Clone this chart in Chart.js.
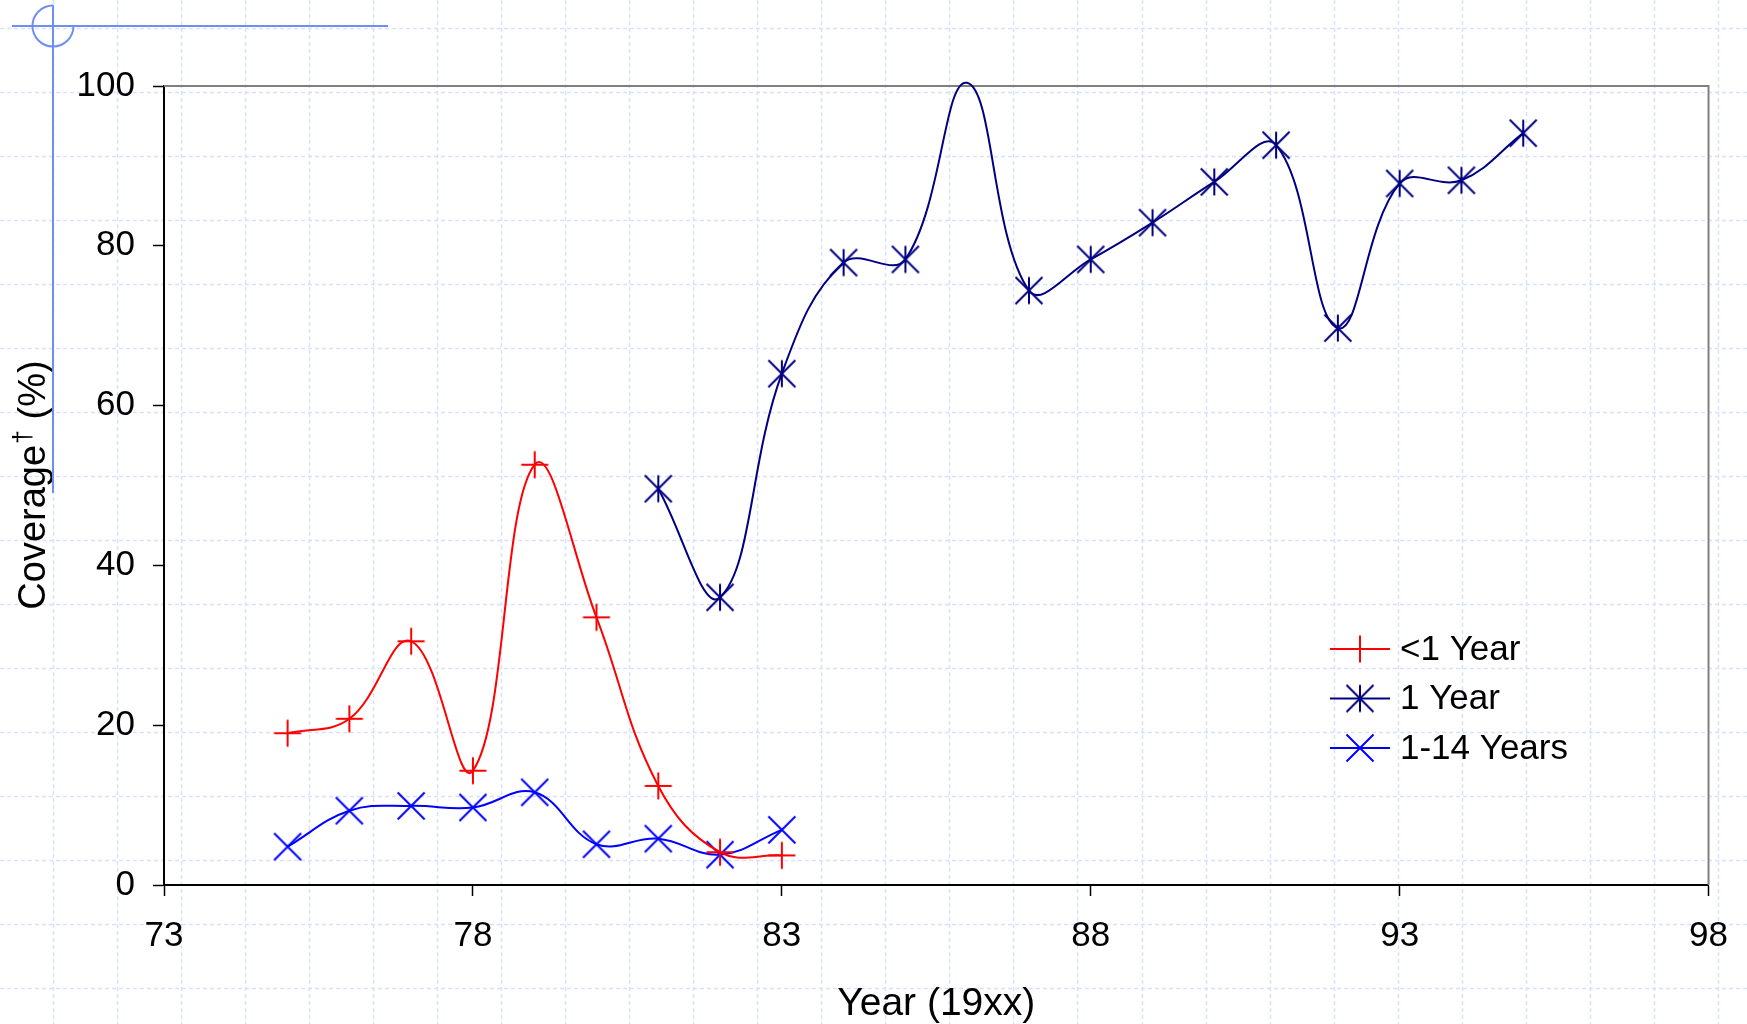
<!DOCTYPE html>
<html>
<head>
<meta charset="utf-8">
<script src="https://cdn.jsdelivr.net/npm/chart.js@4/dist/chart.umd.min.js"></script>
<style>
html,body{margin:0;padding:0;background:#fff;}
canvas{display:block;}
</style>
</head>
<body>
<canvas id="c" width="1747" height="1024"></canvas>
<script>
// ---------------- data ----------------
const yearsUnder1 = [75, 76, 77, 78, 79, 80, 81, 82, 83];
const valuesUnder1 = [19.0, 20.8, 30.5, 14.3, 52.6, 33.5, 12.4, 4.1, 3.7];

const years1 = [81, 82, 83, 84, 85, 86, 87, 88, 89, 90, 91, 92, 93, 94, 95];
const values1 = [49.6, 36.0, 64.0, 77.9, 78.3, 100.4, 74.4, 78.3, 82.9, 88.0, 92.6, 69.7, 87.8, 88.2, 94.1];
const hiddenMarkerYears1 = [86];

const years1to14 = [75, 76, 77, 78, 79, 80, 81, 82, 83];
const values1to14 = [4.8, 9.3, 9.9, 9.7, 11.6, 5.1, 5.8, 3.8, 6.9];

const seriesLabels = ['<1 Year', '1 Year', '1-14 Years'];
const xTickValues = [73, 78, 83, 88, 93, 98];
const yTickValues = [0, 20, 40, 60, 80, 100];
const xTitle = 'Year (19xx)';
const yTitleMain = 'Coverage';
const yTitleSup = '\u2020';
const yTitleEnd = ' (%)';

// ---------------- styling ----------------
const FONT = '"Liberation Sans", Arial, Helvetica, sans-serif';
const W = 1747, H = 1024;

function makeMarker(kind, color) {
  const s = 30;
  const c = document.createElement('canvas');
  c.width = s; c.height = s;
  const g = c.getContext('2d');
  g.strokeStyle = color;
  g.lineWidth = 2;
  const m = s / 2, h = 13.5;
  g.beginPath();
  if (kind === 'plus' || kind === 'star') { g.moveTo(m, m - h); g.lineTo(m, m + h); }
  if (kind === 'plus') { g.moveTo(m - h, m); g.lineTo(m + h, m); }
  if (kind === 'star' || kind === 'x') {
    g.moveTo(m - h, m - h); g.lineTo(m + h, m + h);
    g.moveTo(m + h, m - h); g.lineTo(m - h, m + h);
  }
  g.stroke();
  return c;
}

const colors = ['#ff0000', '#000080', '#0000ff'];
const markers = [makeMarker('plus', colors[0]), makeMarker('star', colors[1]), makeMarker('x', colors[2])];

function toPoints(xs, ys) { return xs.map((x, i) => ({ x: x, y: ys[i] })); }

const pageGrid = {
  id: 'pageGrid',
  beforeDraw(chart) {
    const ctx = chart.ctx;
    ctx.save();
    ctx.fillStyle = '#ffffff';
    ctx.fillRect(0, 0, W, H);
    ctx.strokeStyle = '#d8e1fa';
    ctx.lineWidth = 1.5;
    ctx.setLineDash([4, 3]);
    ctx.beginPath();
    for (let x = 53 - 64.03; x < W; x += 64.03) {
      if (x < 0) continue;
      ctx.moveTo(Math.round(x) + 0.5, 0); ctx.lineTo(Math.round(x) + 0.5, H);
    }
    for (let y = 28; y < H; y += 64) {
      ctx.moveTo(0, y + 0.5); ctx.lineTo(W, y + 0.5);
    }
    ctx.stroke();
    ctx.restore();
  },
  beforeDatasetsDraw(chart) {
    const ctx = chart.ctx, a = chart.chartArea;
    ctx.save();
    ctx.strokeStyle = '#808080';
    ctx.lineWidth = 2;
    ctx.beginPath();
    ctx.moveTo(a.left, a.top); ctx.lineTo(a.right, a.top); ctx.lineTo(a.right, a.bottom);
    ctx.stroke();
    ctx.restore();
  },
  afterDraw(chart) {
    const ctx = chart.ctx, a = chart.chartArea;
    ctx.save();
    // axis titles
    ctx.fillStyle = '#000';
    ctx.font = '39px ' + FONT;
    ctx.textAlign = 'center';
    ctx.textBaseline = 'alphabetic';
    ctx.fillText(xTitle, (a.left + a.right) / 2, 1015);

    ctx.save();
    ctx.translate(45, (a.top + a.bottom) / 2);
    ctx.rotate(-Math.PI / 2);
    ctx.textAlign = 'left';
    ctx.font = '38px ' + FONT;
    const w1 = ctx.measureText(yTitleMain).width;
    const w3 = ctx.measureText(yTitleEnd).width;
    ctx.font = '25px ' + FONT;
    const w2 = ctx.measureText(yTitleSup).width;
    const start = -(w1 + w2 + w3) / 2;
    ctx.font = '38px ' + FONT;
    ctx.fillText(yTitleMain, start, 0);
    ctx.font = '25px ' + FONT;
    ctx.fillText(yTitleSup, start + w1 + 1, -14);
    ctx.font = '38px ' + FONT;
    ctx.fillText(yTitleEnd, start + w1 + w2 + 1, 0);
    ctx.restore();

    // legend
    const lx0 = 1330, lx1 = 1390, ly0 = 649, gap = 49.5;
    chart.data.datasets.forEach((ds, i) => {
      const y = ly0 + i * gap;
      ctx.strokeStyle = ds.borderColor;
      ctx.lineWidth = 2;
      ctx.beginPath();
      ctx.moveTo(lx0, y); ctx.lineTo(lx1, y);
      ctx.stroke();
      const mk = markers[i];
      ctx.drawImage(mk, (lx0 + lx1) / 2 - mk.width / 2, y - mk.height / 2);
      ctx.fillStyle = '#000';
      ctx.font = '35px ' + FONT;
      ctx.textAlign = 'left';
      ctx.textBaseline = 'middle';
      ctx.fillText(ds.label, 1400, y + 1);
    });

    // registration crosshair
    ctx.strokeStyle = '#6f8ef2';
    ctx.lineWidth = 2;
    ctx.beginPath();
    ctx.moveTo(12, 26); ctx.lineTo(388, 26);
    ctx.moveTo(53, 5); ctx.lineTo(53, 493);
    ctx.stroke();
    ctx.beginPath();
    ctx.arc(53, 26, 20.5, 0, 1.5 * Math.PI);
    ctx.stroke();
    ctx.restore();
  }
};

const commonDs = { borderWidth: 2, fill: false, tension: 0.4, clip: false, pointRadius: 10 };

new Chart(document.getElementById('c'), {
  type: 'line',
  data: {
    datasets: [
      Object.assign({}, commonDs, {
        label: seriesLabels[0], data: toPoints(yearsUnder1, valuesUnder1),
        borderColor: colors[0], pointStyle: markers[0]
      }),
      Object.assign({}, commonDs, {
        label: seriesLabels[1], data: toPoints(years1, values1),
        borderColor: colors[1], pointStyle: markers[1],
        pointRadius: ctx => hiddenMarkerYears1.includes(years1[ctx.dataIndex]) ? 0 : 10
      }),
      Object.assign({}, commonDs, {
        label: seriesLabels[2], data: toPoints(years1to14, values1to14),
        borderColor: colors[2], pointStyle: markers[2]
      })
    ]
  },
  options: {
    responsive: false,
    devicePixelRatio: 1,
    animation: false,
    events: [],
    layout: { padding: { top: 86, right: 37, left: 0, bottom: 0 } },
    plugins: { legend: { display: false }, tooltip: { enabled: false } },
    scales: {
      x: {
        type: 'linear', min: 73, max: 98,
        afterBuildTicks: s => { s.ticks = xTickValues.map(v => ({ value: v })); },
        afterFit: s => { s.height = 139; },
        grid: { drawOnChartArea: false, drawTicks: true, tickLength: 11, tickColor: '#000', tickWidth: 1.5 },
        border: { display: true, color: '#000', width: 2 },
        ticks: { color: '#000', font: { family: FONT, size: 35 }, padding: 19, maxRotation: 0, autoSkip: false }
      },
      y: {
        type: 'linear', min: 0, max: 100,
        afterBuildTicks: s => { s.ticks = yTickValues.map(v => ({ value: v })); },
        afterFit: s => { s.width = 164; },
        grid: { drawOnChartArea: false, drawTicks: true, tickLength: 11, tickColor: '#000', tickWidth: 1.5 },
        border: { display: true, color: '#000', width: 2 },
        ticks: { color: '#000', font: { family: FONT, size: 35 }, padding: 18, autoSkip: false }
      }
    }
  },
  plugins: [pageGrid]
});
</script>
</body>
</html>
